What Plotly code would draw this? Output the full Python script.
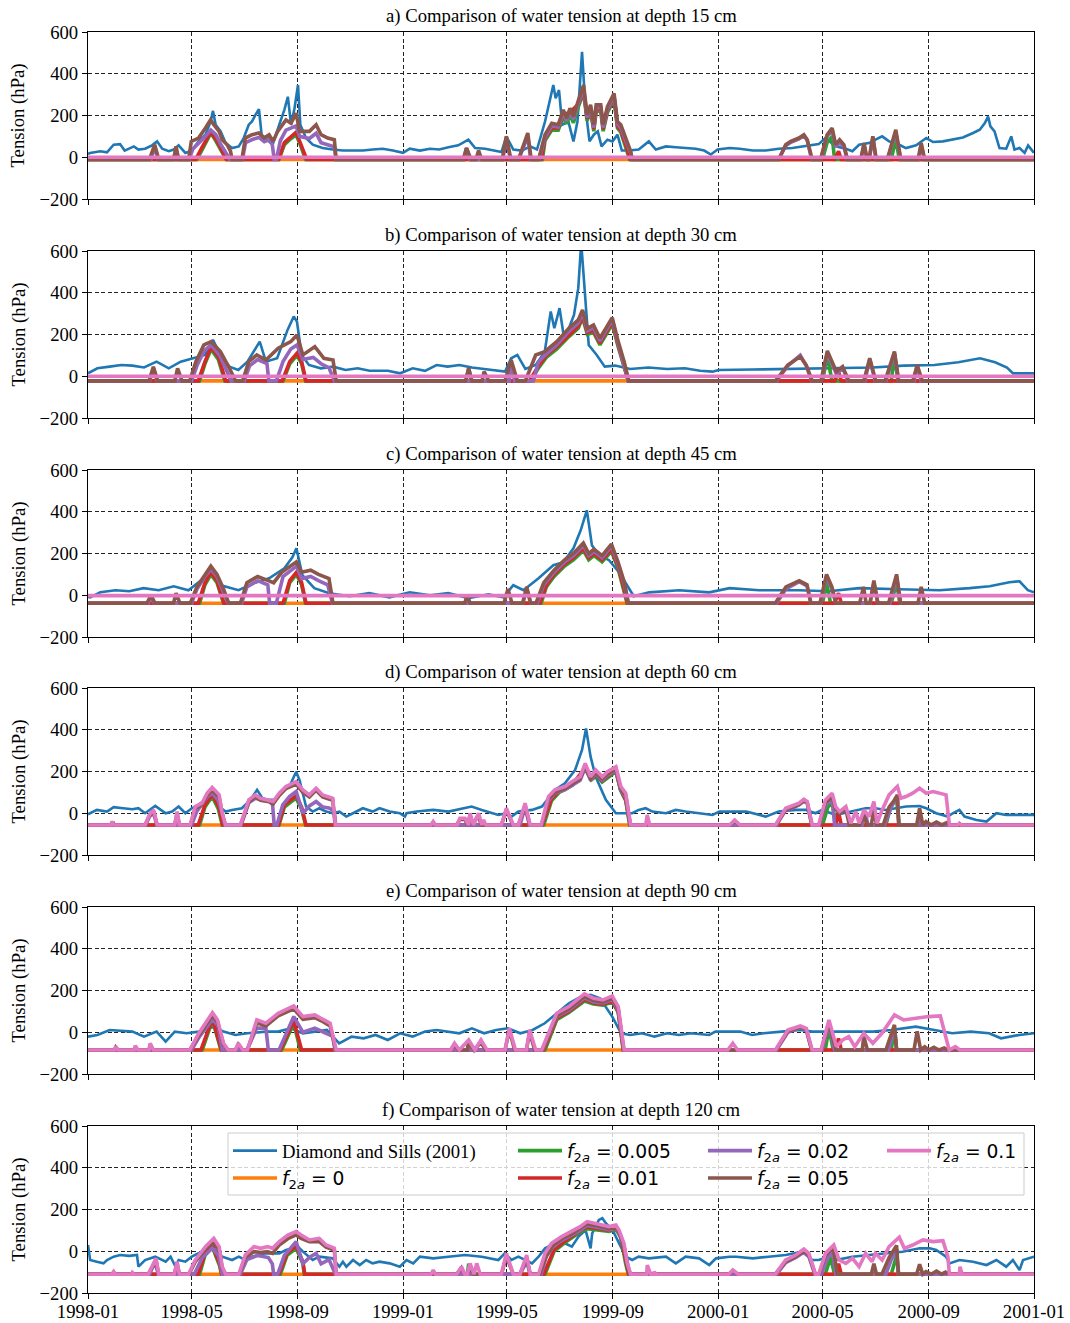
import plotly.graph_objects as go
from datetime import datetime

# ---------------- DATA (time in months since 1998-01, value in hPa) ----------------
BASE = {"a": -11, "b": -22, "c": -38, "d": -56, "e": -85, "f": -110}
DEPTHS = {"a": 15, "b": 30, "c": 45, "d": 60, "e": 90, "f": 120}

A_OBS = [(0.0,15),(0.08,21),(0.46,29),(0.71,24),(0.96,60),(1.22,63),(1.41,32),(1.6,41),(1.79,52),(1.98,37),(2.23,41),(2.49,57),(2.68,76),(2.87,41),(3.12,29),(3.31,37),(3.5,57),(3.76,21),(4.01,32),(4.26,76),(4.52,108),(4.71,171),(4.8,222),(4.9,156),(5.09,124),(5.28,68),(5.53,44),(5.79,52),(5.98,92),(6.17,156),(6.29,171),(6.42,203),(6.55,230),(6.65,108),(6.87,84),(7.06,60),(7.31,156),(7.5,227),(7.63,290),(7.75,156),(7.88,235),(8.01,346),(8.1,156),(8.32,92),(8.58,60),(8.96,44),(9.34,37),(9.72,32),(10.1,32),(10.48,32),(10.86,37),(11.24,41),(11.62,32),(12.0,21),(12.25,41),(12.63,32),(13.01,41),(13.39,37),(13.77,48),(14.16,57),(14.54,84),(14.79,44),(15.17,41),(15.55,32),(15.8,25),(15.99,100),(16.25,37),(16.57,32),(16.88,52),(17.14,37),(17.45,171),(17.77,346),(17.86,282),(17.99,322),(18.11,156),(18.34,171),(18.53,76),(18.68,171),(18.85,505),(18.98,235),(19.13,76),(19.29,108),(19.44,124),(19.58,52),(19.8,84),(19.99,76),(20.18,108),(20.35,32),(20.62,32),(21.0,37),(21.38,76),(21.64,37),(22.02,52),(22.4,48),(22.78,44),(23.16,41),(23.48,32),(23.73,13),(23.98,37),(24.43,44),(24.81,41),(25.32,32),(25.83,32),(26.33,41),(26.84,44),(27.35,52),(27.85,63),(28.11,92),(28.49,52),(28.87,41),(29.12,29),(29.38,60),(29.76,68),(30.01,84),(30.26,100),(30.52,76),(30.9,60),(31.15,44),(31.53,57),(31.91,92),(32.17,73),(32.55,76),(32.93,84),(33.31,95),(33.69,116),(33.94,132),(34.13,163),(34.26,195),(34.35,148),(34.51,124),(34.7,44),(34.96,41),(35.15,100),(35.27,37),(35.46,44),(35.65,21),(35.78,57),(36.0,21)]
A_GREEN = [(0,-11),(4.2,-11),(4.45,50),(4.72,116),(4.9,80),(5.15,20),(5.3,-11),(7.3,-11),(7.5,60),(7.75,90),(7.94,108),(8.1,60),(8.3,-11),(14.4,-11),(14.47,40),(14.6,-11),(17.35,-11),(17.45,80),(17.71,130),(17.96,130),(18.15,195),(18.28,160),(18.4,205),(18.53,165),(18.72,245),(18.91,310),(19.04,175),(19.17,220),(19.29,125),(19.38,220),(19.55,220),(19.64,125),(19.8,215),(20.05,275),(20.18,140),(20.31,120),(20.5,50),(20.65,-11),(28.0,-11),(28.17,70),(28.36,100),(28.45,-11),(30.6,-11),(30.77,90),(30.9,-11),(36,-11)]
A_RED = [(0,-11),(4.15,-11),(4.4,50),(4.72,120),(4.92,85),(5.15,30),(5.32,-11),(7.28,-11),(7.5,70),(7.94,120),(8.1,70),(8.25,20),(8.35,-11),(17.3,-11),(17.45,90),(17.71,140),(17.96,140),(18.15,205),(18.4,215),(18.72,255),(18.91,320),(19.04,185),(19.17,230),(19.29,135),(19.38,230),(19.55,230),(19.64,135),(19.8,225),(20.05,285),(20.18,150),(20.31,130),(20.5,60),(20.68,-11),(28.45,-11),(28.6,29),(28.7,-11),(36,-11)]
A_PURPLE = [(0,-11),(2.45,-11),(2.59,50),(2.72,-11),(3.3,-11),(3.4,40),(3.5,-11),(3.9,-11),(4.05,40),(4.3,70),(4.52,100),(4.72,130),(4.9,110),(5.1,60),(5.3,20),(5.45,-11),(5.93,-11),(6.05,70),(6.3,85),(6.55,95),(6.75,75),(6.95,85),(7.05,60),(7.12,-11),(7.2,-11),(7.35,80),(7.56,130),(7.94,150),(8.07,100),(8.45,90),(8.71,115),(8.9,70),(9.15,60),(9.4,50),(9.46,-11),(14.35,-11),(14.47,44),(14.6,-11),(15.85,-11),(15.99,90),(16.14,-11),(16.45,-11),(16.79,100),(16.9,-11),(17.22,-11),(17.45,95),(17.71,150),(17.96,145),(18.15,212),(18.28,175),(18.4,222),(18.53,182),(18.72,262),(18.91,330),(19.04,190),(19.17,238),(19.29,142),(19.38,238),(19.55,238),(19.64,142),(19.8,230),(20.05,292),(20.18,160),(20.31,142),(20.5,80),(20.69,20),(20.74,-11),(26.33,-11),(26.59,55),(26.78,72),(27.09,88),(27.28,104),(27.41,80),(27.58,-11),(27.93,-11),(28.17,100),(28.36,130),(28.49,50),(28.64,70),(28.8,50),(28.92,-11),(29.45,-11),(29.57,60),(29.68,-11),(29.77,-11),(29.91,95),(30.03,-11),(30.46,-11),(30.77,120),(30.95,-11),(31.62,-11),(31.72,60),(31.84,-11),(36,-11)]
A_BROWN = [(0,-11),(2.39,-11),(2.59,60),(2.74,-11),(3.31,-11),(3.4,52),(3.5,-11),(3.88,-11),(3.99,76),(4.26,92),(4.52,140),(4.71,179),(4.83,156),(5.03,124),(5.15,84),(5.34,60),(5.47,29),(5.53,-11),(5.91,-11),(6.04,92),(6.29,108),(6.55,116),(6.74,92),(6.93,108),(7.08,76),(7.25,124),(7.56,179),(7.75,163),(7.94,211),(8.07,124),(8.45,124),(8.71,156),(8.9,108),(9.15,92),(9.4,84),(9.47,-11),(14.35,-11),(14.47,44),(14.64,-11),(14.82,-11),(14.92,32),(15.04,-11),(15.83,-11),(15.99,100),(16.16,-11),(16.44,-11),(16.79,116),(16.92,-11),(17.2,-11),(17.45,108),(17.71,163),(17.96,156),(18.15,227),(18.28,187),(18.4,235),(18.53,195),(18.72,275),(18.91,346),(19.04,203),(19.17,251),(19.29,156),(19.38,251),(19.55,251),(19.64,156),(19.8,243),(20.05,306),(20.18,171),(20.31,156),(20.5,92),(20.69,29),(20.75,-11),(26.33,-11),(26.59,60),(26.78,76),(27.09,92),(27.28,108),(27.41,84),(27.6,-11),(27.92,-11),(28.17,108),(28.36,140),(28.49,60),(28.64,84),(28.8,60),(28.93,-11),(29.44,-11),(29.57,68),(29.69,-11),(29.76,-11),(29.91,100),(30.04,-11),(30.45,-11),(30.77,132),(30.96,-11),(31.6,-11),(31.72,68),(31.85,-11),(36,-11)]
A_PINK = [(0,0),(36,0)]

B_OBS = [(0.0,14),(0.35,38),(0.81,46),(1.27,54),(1.73,51),(2.19,42),(2.66,70),(3.12,38),(3.58,70),(4.04,86),(4.5,102),(4.8,174),(5.08,102),(5.43,46),(5.77,30),(6.12,70),(6.58,166),(6.81,70),(7.23,86),(7.62,222),(7.85,286),(7.97,262),(8.15,102),(8.43,54),(8.89,38),(9.35,46),(9.82,30),(10.28,38),(10.74,26),(11.43,26),(11.89,14),(12.36,38),(12.82,26),(13.28,54),(13.74,46),(14.2,54),(14.67,42),(15.13,35),(15.59,26),(15.94,22),(16.17,86),(16.4,102),(16.7,35),(17.09,54),(17.44,118),(17.67,310),(17.81,230),(18.01,326),(18.18,182),(18.36,230),(18.55,294),(18.71,422),(18.82,640),(18.96,390),(19.1,150),(19.4,102),(19.7,46),(20.09,51),(20.67,35),(21.36,42),(22.06,35),(22.75,38),(23.33,26),(23.79,22),(24.02,30),(25.29,32),(26.44,35),(27.6,38),(28.75,42),(29.91,42),(31.06,51),(32.22,54),(33.14,67),(33.95,86),(34.53,67),(34.99,42),(35.22,14),(36.0,14)]
B_GREEN = [(0,-22),(4.3,-22),(4.5,60),(4.73,130),(5.0,80),(5.25,-22),(7.45,-22),(7.7,60),(7.97,100),(8.15,60),(8.3,-22),(14.45,-22),(14.55,38),(14.65,-22),(16.9,-22),(17.2,40),(17.5,90),(17.9,130),(18.36,190),(18.71,230),(18.87,280),(19.05,200),(19.28,210),(19.52,150),(19.75,200),(19.98,250),(20.21,140),(20.44,40),(20.6,-22),(28.0,-22),(28.18,100),(28.35,-22),(30.6,-22),(30.72,100),(30.85,-22),(36,-22)]
B_RED = [(0,-22),(4.25,-22),(4.5,70),(4.73,140),(5.02,90),(5.28,-22),(7.42,-22),(7.7,70),(7.97,110),(8.15,70),(8.32,-22),(16.85,-22),(17.2,50),(17.5,100),(17.9,140),(18.36,200),(18.71,240),(18.87,290),(19.05,210),(19.28,220),(19.52,160),(19.75,210),(19.98,260),(20.21,150),(20.44,50),(20.6,-22),(28.45,-22),(28.6,20),(28.7,-22),(36,-22)]
B_PURPLE = [(0,-22),(2.4,-22),(2.54,40),(2.68,-22),(4.0,-22),(4.2,50),(4.46,120),(4.73,150),(5.05,100),(5.35,20),(5.5,-22),(6.0,-22),(6.2,50),(6.5,80),(6.85,60),(6.92,-22),(7.2,-22),(7.45,70),(7.74,130),(7.97,150),(8.2,80),(8.6,90),(8.9,60),(9.2,40),(9.4,-22),(16.1,-22),(16.17,60),(16.3,-22),(17.0,-22),(17.2,70),(17.44,100),(17.9,150),(18.36,215),(18.71,255),(18.87,305),(19.05,218),(19.28,232),(19.52,170),(19.75,218),(19.98,270),(20.21,155),(20.44,55),(20.6,-22),(26.25,-22),(26.67,50),(27.14,100),(27.37,50),(27.58,-22),(27.95,-22),(28.18,110),(28.52,10),(28.75,40),(28.95,-22),(29.6,-22),(29.79,80),(30.0,-22),(30.4,-22),(30.72,110),(30.87,-22),(31.45,-22),(31.57,50),(31.72,-22),(36,-22)]
B_BROWN = [(0,-22),(2.38,-22),(2.54,46),(2.7,-22),(3.35,-22),(3.46,38),(3.63,-22),(3.93,-22),(4.16,70),(4.46,150),(4.73,166),(5.08,118),(5.43,38),(5.66,-22),(5.94,-22),(6.17,70),(6.47,102),(6.81,78),(7.27,134),(7.74,166),(7.97,198),(8.2,102),(8.66,142),(9.01,86),(9.35,78),(9.47,-22),(14.43,-22),(14.55,38),(14.67,-22),(15.05,-22),(15.13,22),(15.31,-22),(15.94,-22),(16.17,78),(16.4,-22),(16.7,-22),(17.09,102),(17.44,118),(17.9,166),(18.36,230),(18.71,270),(18.87,318),(19.05,230),(19.28,246),(19.52,182),(19.75,230),(19.98,281),(20.21,166),(20.44,70),(20.62,-22),(26.21,-22),(26.67,54),(27.14,94),(27.37,54),(27.6,-22),(27.94,-22),(28.18,121),(28.52,22),(28.75,46),(28.98,-22),(29.56,-22),(29.79,86),(30.02,-22),(30.37,-22),(30.72,118),(30.88,-22),(31.41,-22),(31.57,54),(31.76,-22),(36,-22)]
B_PINK = [(0,0),(36,0)]

C_OBS = [(0.0,-8),(0.08,-10),(0.46,14),(1.03,24),(1.6,19),(2.17,34),(2.74,24),(3.31,43),(3.88,24),(4.45,81),(4.72,100),(5.1,48),(5.78,24),(6.35,57),(6.93,81),(7.5,129),(7.8,182),(7.95,225),(8.18,96),(8.64,34),(9.21,10),(9.97,-5),(10.73,10),(11.49,-10),(12.25,14),(13.01,0),(13.77,10),(14.54,-14),(15.3,5),(15.87,-10),(16.25,48),(16.63,24),(17.2,81),(17.77,144),(18.15,158),(18.53,225),(18.8,311),(19.03,407),(19.22,240),(19.48,192),(19.86,168),(20.24,110),(20.55,48),(20.81,-5),(21.39,14),(22.53,24),(23.67,14),(24.43,34),(25.57,24),(27.09,24),(28.23,19),(29.38,34),(30.9,29),(32.42,24),(33.56,34),(34.32,43),(35.08,62),(35.46,67),(35.77,24),(36.0,14)]
C_GREEN = [(0,-38),(4.3,-38),(4.5,50),(4.72,100),(4.95,60),(5.2,-38),(7.5,-38),(7.7,60),(7.95,100),(8.15,50),(8.3,-38),(14.42,-38),(14.5,-5),(14.58,-38),(17.3,-38),(17.5,40),(17.8,90),(18.2,140),(18.53,170),(18.9,215),(19.1,170),(19.3,190),(19.6,160),(19.95,210),(20.2,130),(20.4,30),(20.55,-38),(28.0,-38),(28.15,60),(28.3,-38),(30.6,-38),(30.8,60),(30.92,-38),(36,-38)]
C_RED = [(0,-38),(4.25,-38),(4.5,60),(4.72,110),(4.95,70),(5.22,-38),(7.45,-38),(7.7,70),(7.95,110),(8.15,60),(8.32,-38),(17.25,-38),(17.5,50),(17.8,100),(18.2,150),(18.53,180),(18.9,225),(19.1,180),(19.3,200),(19.6,170),(19.95,220),(20.2,140),(20.42,40),(20.57,-38),(28.45,-38),(28.6,10),(28.7,-38),(36,-38)]
C_PURPLE = [(0,-38),(2.35,-38),(2.45,-10),(2.58,-38),(4.0,-38),(4.2,30),(4.5,90),(4.72,125),(4.95,90),(5.2,20),(5.38,-38),(5.9,-38),(6.1,40),(6.5,70),(6.88,50),(6.95,-38),(7.2,-38),(7.45,90),(7.95,140),(8.15,80),(8.5,90),(8.8,70),(9.15,50),(9.33,-38),(16.6,-38),(16.75,30),(16.9,-38),(17.15,-38),(17.4,50),(17.8,110),(18.2,160),(18.53,190),(18.9,240),(19.1,190),(19.3,210),(19.6,180),(19.95,235),(20.2,150),(20.45,50),(20.6,-38),(26.25,-38),(26.6,30),(27.1,65),(27.4,45),(27.55,-38),(27.92,-38),(28.15,90),(28.35,30),(28.5,-38),(29.8,-38),(29.95,60),(30.1,-38),(30.55,-38),(30.8,90),(30.95,-38),(36,-38)]
C_BROWN = [(0,-38),(2.3,-38),(2.45,0),(2.6,-38),(3.3,-38),(3.4,10),(3.55,-38),(3.95,-38),(4.2,40),(4.5,100),(4.72,140),(4.95,100),(5.2,30),(5.4,-38),(5.85,-38),(6.1,60),(6.5,90),(6.9,70),(7.1,60),(7.4,110),(7.95,160),(8.15,110),(8.5,120),(8.8,100),(9.2,80),(9.35,-38),(14.4,-38),(14.5,0),(14.6,-38),(15.9,-38),(16.05,30),(16.2,-38),(16.6,-38),(16.75,40),(16.9,-38),(17.1,-38),(17.4,60),(17.8,120),(18.2,170),(18.53,200),(18.9,250),(19.1,200),(19.3,220),(19.6,190),(19.95,245),(20.2,160),(20.45,60),(20.6,-38),(26.2,-38),(26.6,40),(27.1,70),(27.4,50),(27.55,-38),(27.9,-38),(28.15,100),(28.35,40),(28.5,-38),(29.4,-38),(29.55,40),(29.65,-38),(29.8,-38),(29.95,70),(30.1,-38),(30.5,-38),(30.8,100),(30.95,-38),(31.6,-38),(31.72,40),(31.85,-38),(36,-38)]
C_PINK = [(0,-2),(36,-2)]

D_OBS = [(0.0,-5),(0.08,0),(0.33,16),(0.71,8),(0.96,29),(1.35,24),(1.73,19),(1.98,24),(2.23,0),(2.61,35),(3.0,0),(3.25,8),(3.5,32),(3.76,0),(4.01,24),(4.26,40),(4.52,64),(4.83,96),(5.03,32),(5.28,8),(5.53,16),(5.91,24),(6.23,64),(6.48,112),(6.68,72),(6.93,64),(7.18,64),(7.44,112),(7.69,128),(7.94,199),(8.07,159),(8.32,32),(8.58,8),(8.83,24),(9.09,8),(9.34,0),(9.59,8),(9.85,-16),(10.1,0),(10.48,24),(10.86,8),(11.12,24),(11.5,8),(11.88,0),(12.07,-16),(12.13,0),(12.51,8),(13.14,16),(13.77,8),(14.41,24),(14.66,32),(15.04,16),(15.68,-8),(15.99,0),(16.18,-16),(16.44,8),(16.95,16),(17.33,32),(17.83,112),(18.21,143),(18.59,207),(18.85,303),(19.0,406),(19.17,271),(19.36,175),(19.74,64),(20.12,0),(20.75,0),(21.0,16),(21.26,24),(21.51,8),(22.02,0),(22.4,16),(22.78,8),(23.29,0),(23.79,-8),(24.05,8),(24.43,8),(25.06,8),(25.83,-16),(26.33,8),(26.97,16),(27.35,16),(27.73,0),(27.98,16),(28.49,-8),(29.12,8),(29.63,24),(30.01,24),(30.39,16),(30.77,24),(31.15,32),(31.66,35),(31.91,24),(32.29,0),(32.74,-16),(32.93,0),(33.18,16),(33.37,-16),(33.82,-32),(34.2,-40),(34.58,0),(34.96,-8),(35.46,-8),(36.0,-8)]
D_GREEN = [(0,-56),(4.3,-56),(4.5,30),(4.77,80),(5.0,20),(5.15,-56),(7.3,-56),(7.5,30),(7.8,60),(7.94,72),(8.15,20),(8.3,-56),(14.55,-56),(14.6,-20),(14.65,-56),(17.4,-56),(17.7,60),(18.0,100),(18.5,135),(18.97,210),(19.2,160),(19.4,180),(19.6,150),(19.8,170),(20.12,200),(20.3,110),(20.5,60),(20.65,-56),(28.0,-56),(28.2,30),(28.36,48),(28.5,-56),(30.4,-56),(30.6,40),(30.8,64),(30.9,-56),(36,-56)]
D_RED = [(0,-56),(4.25,-56),(4.5,40),(4.77,90),(5.02,30),(5.17,-56),(7.28,-56),(7.5,40),(7.8,70),(7.94,85),(8.15,30),(8.32,-56),(17.35,-56),(17.7,70),(18.0,105),(18.5,140),(18.97,218),(19.2,165),(19.4,185),(19.6,155),(19.8,178),(20.12,205),(20.3,115),(20.5,65),(20.67,-56),(28.5,-56),(28.6,5),(28.7,-56),(36,-56)]
D_PURPLE = [(0,-56),(2.25,-56),(2.4,-15),(2.55,0),(2.67,-56),(4.0,-56),(4.2,10),(4.45,50),(4.6,80),(4.77,96),(5.0,60),(5.15,0),(5.25,-56),(5.88,-56),(6.17,50),(6.42,72),(6.7,62),(6.93,60),(7.06,40),(7.12,-56),(7.22,-56),(7.44,40),(7.69,80),(7.94,104),(8.1,40),(8.2,0),(8.45,35),(8.6,50),(8.71,56),(8.96,30),(9.2,25),(9.4,10),(9.45,-56),(16.5,-56),(16.69,30),(16.85,-56),(17.33,-56),(17.58,60),(17.83,95),(18.21,112),(18.47,132),(18.78,158),(18.97,220),(19.17,158),(19.36,190),(19.61,158),(19.8,182),(20.12,205),(20.31,110),(20.5,75),(20.67,-56),(26.25,-56),(26.59,15),(26.84,25),(27.09,40),(27.28,58),(27.41,48),(27.58,-56),(27.88,-56),(28.11,40),(28.36,70),(28.45,-56),(29.5,-56),(29.62,0),(29.72,-56),(30.35,-56),(30.6,30),(30.83,80),(30.88,-56),(31.6,-56),(31.66,10),(31.75,-56),(36,-56)]
D_BROWN = [(0,-56),(0.9,-56),(0.93,-42),(0.98,-56),(2.23,-56),(2.39,-12),(2.55,10),(2.68,-56),(3.35,-56),(3.44,0),(3.53,-56),(3.95,-56),(4.14,25),(4.39,40),(4.58,85),(4.77,112),(5.03,78),(5.15,-5),(5.27,-56),(5.86,-56),(6.17,55),(6.42,78),(6.61,62),(6.93,55),(7.08,45),(7.31,85),(7.56,118),(7.94,140),(8.2,100),(8.45,78),(8.71,110),(8.96,78),(9.34,62),(9.43,-56),(13.05,-56),(13.14,-45),(13.23,-56),(14.1,-56),(14.22,-30),(14.41,-30),(14.5,-56),(14.6,-10),(14.7,-56),(14.9,-10),(15.02,-56),(15.8,-56),(15.99,15),(16.24,-56),(16.44,-56),(16.69,38),(16.87,-56),(17.32,-56),(17.58,68),(17.83,100),(18.21,118),(18.47,140),(18.78,165),(18.97,228),(19.17,165),(19.36,196),(19.61,165),(19.8,188),(20.12,212),(20.31,118),(20.5,85),(20.68,-56),(24.45,-56),(24.62,-38),(24.8,-56),(26.22,-56),(26.59,18),(26.84,28),(27.09,42),(27.28,60),(27.41,50),(27.59,-56),(27.86,-56),(28.11,50),(28.36,80),(28.49,20),(28.64,0),(28.87,20),(29.0,-56),(29.4,-56),(29.57,-10),(29.7,-56),(29.85,-56),(29.95,20),(30.05,-56),(30.3,-56),(30.52,30),(30.7,60),(30.83,88),(30.88,-56),(31.55,-56),(31.66,24),(31.78,-56),(31.9,-40),(32.1,-56),(32.3,-42),(32.5,-56),(32.7,-45),(32.8,-56),(36,-56)]
D_PINK = [(0,-56),(0.84,-56),(0.9,-40),(0.96,-56),(2.23,-56),(2.39,-8),(2.55,16),(2.68,-56),(3.35,-56),(3.44,8),(3.53,-56),(3.95,-56),(4.14,32),(4.39,48),(4.58,96),(4.77,124),(5.03,88),(5.15,0),(5.28,-56),(5.85,-56),(6.17,64),(6.42,88),(6.61,72),(6.93,64),(7.08,56),(7.31,96),(7.56,128),(7.94,151),(8.2,112),(8.45,88),(8.71,120),(8.96,88),(9.34,72),(9.44,-56),(13.05,-56),(13.14,-40),(13.23,-56),(14.12,-56),(14.22,-24),(14.41,-24),(14.54,-56),(14.6,0),(14.73,-56),(14.92,0),(15.04,-56),(15.11,-32),(15.2,-56),(15.8,-56),(15.99,24),(16.25,-56),(16.44,-56),(16.69,48),(16.88,-56),(17.3,-56),(17.58,80),(17.83,112),(18.21,128),(18.47,151),(18.78,175),(18.97,239),(19.17,175),(19.36,207),(19.61,175),(19.8,199),(20.12,223),(20.31,128),(20.5,96),(20.69,-56),(21.26,-56),(21.32,-8),(21.41,-56),(24.43,-56),(24.62,-32),(24.81,-56),(26.21,-56),(26.59,24),(26.84,35),(27.09,48),(27.28,67),(27.41,56),(27.6,-56),(27.85,-56),(28.11,64),(28.36,96),(28.49,32),(28.64,8),(28.87,32),(29.06,-48),(29.25,8),(29.38,-48),(29.57,16),(29.76,-16),(29.95,56),(30.07,-48),(30.26,16),(30.52,88),(30.83,128),(30.96,72),(31.15,80),(31.4,96),(31.66,120),(31.91,96),(32.17,104),(32.42,96),(32.67,88),(32.8,-56),(33.12,-56),(33.18,-48),(33.25,-56),(36,-56)]

E_OBS = [(0.0,-21),(0.35,-13),(0.81,11),(1.27,8),(1.73,3),(2.19,-21),(2.66,3),(3.0,-45),(3.35,3),(3.81,-5),(4.27,3),(4.5,11),(4.85,27),(5.2,3),(5.66,-13),(6.12,-5),(6.81,3),(7.27,3),(7.74,19),(8.2,-5),(8.66,3),(9.12,11),(9.58,-53),(10.05,-21),(10.51,-29),(10.97,-13),(11.43,-37),(11.89,-5),(12.36,-21),(12.82,3),(13.28,11),(13.74,3),(14.2,-5),(14.67,19),(15.13,-5),(15.59,11),(16.05,19),(16.51,-5),(16.97,11),(17.44,43),(17.9,91),(18.36,139),(18.82,171),(19.17,179),(19.52,163),(19.98,75),(20.32,-5),(20.67,-13),(21.13,-5),(21.59,-21),(22.06,-5),(22.52,-13),(22.98,-5),(23.67,-13),(23.9,3),(24.83,3),(25.29,-13),(25.75,-5),(26.44,3),(27.14,11),(27.6,3),(28.29,3),(28.98,3),(29.91,3),(30.6,11),(31.52,27),(32.22,11),(32.91,-5),(33.6,3),(34.3,-5),(34.76,-29),(35.45,-13),(36.0,-5)]
E_GREEN = [(0,-85),(4.4,-85),(4.78,59),(5.1,-85),(7.4,-85),(7.85,43),(8.1,-85),(14.5,-85),(14.55,-40),(14.65,-85),(17.45,-85),(17.9,60),(18.36,95),(18.94,150),(19.28,135),(19.63,130),(19.98,145),(20.21,95),(20.4,-85),(28.1,-85),(28.24,19),(28.4,-85),(30.6,-85),(30.72,20),(30.8,-85),(36,-85)]
E_RED = [(0,-85),(4.35,-85),(4.78,65),(5.12,-85),(7.35,-85),(7.85,55),(8.15,-85),(17.4,-85),(17.9,68),(18.36,100),(18.94,158),(19.28,140),(19.63,135),(19.98,150),(20.21,100),(20.41,-85),(28.45,-85),(28.6,-30),(28.7,-85),(36,-85)]
E_PURPLE = [(0,-85),(4.0,-85),(4.3,-20),(4.78,62),(5.0,30),(5.15,-85),(6.1,-85),(6.47,20),(6.81,20),(6.9,-85),(7.3,-85),(7.85,75),(8.2,0),(8.66,20),(9.01,0),(9.35,-20),(9.42,-85),(17.36,-85),(17.9,75),(18.36,105),(18.94,165),(19.28,145),(19.63,140),(19.98,155),(20.21,105),(20.42,-85),(26.25,-85),(26.67,0),(27.14,22),(27.37,12),(27.58,-85),(27.98,-85),(28.24,35),(28.45,-85),(30.5,-85),(30.72,25),(30.8,-85),(36,-85)]
E_BROWN = [(0,-85),(0.99,-85),(1.04,-72),(1.12,-85),(1.8,-85),(1.85,-70),(1.94,-85),(2.38,-85),(2.42,-58),(2.52,-85),(3.93,-85),(4.27,-15),(4.78,82),(4.97,50),(5.2,-60),(5.36,-85),(5.66,-85),(5.77,-58),(5.94,-85),(6.12,-85),(6.47,45),(6.81,30),(7.27,78),(7.85,112),(8.2,62),(8.66,70),(9.01,48),(9.24,30),(9.45,-85),(13.86,-85),(14.02,-58),(14.18,-85),(14.5,-85),(14.55,-45),(14.75,-85),(15.0,-50),(15.2,-85),(15.94,-85),(16.1,10),(16.3,-85),(16.74,-85),(16.86,0),(17.05,-85),(17.34,-85),(17.9,80),(18.36,112),(18.94,172),(19.28,152),(19.63,145),(19.98,163),(20.21,112),(20.42,-85),(26.22,-85),(26.67,5),(27.14,25),(27.37,15),(27.58,-85),(27.95,-85),(28.24,45),(28.5,-85),(29.5,-85),(29.56,-20),(29.7,-85),(30.4,-85),(30.72,35),(30.8,-85),(31.45,-85),(31.57,5),(31.7,-85),(31.85,-70),(32.0,-85),(32.2,-72),(32.4,-85),(32.6,-75),(32.75,-85),(36,-85)]
E_PINK = [(0,-85),(0.99,-85),(1.04,-69),(1.15,-85),(1.8,-85),(1.85,-65),(1.96,-85),(2.38,-85),(2.42,-53),(2.54,-85),(3.93,-85),(4.27,-5),(4.78,94),(4.97,59),(5.2,-53),(5.38,-85),(5.66,-85),(5.77,-53),(5.94,-85),(6.12,-85),(6.47,59),(6.81,43),(7.27,91),(7.85,126),(8.2,75),(8.66,83),(9.01,59),(9.24,43),(9.47,-85),(13.86,-85),(14.02,-53),(14.2,-85),(14.55,-37),(14.78,-85),(15.01,-37),(15.24,-85),(15.94,-85),(16.1,19),(16.33,-85),(16.74,-85),(16.86,11),(17.09,-85),(17.32,-85),(17.9,91),(18.36,123),(18.94,184),(19.28,163),(19.63,155),(19.98,174),(20.21,123),(20.44,-85),(24.36,-85),(24.55,-53),(24.73,-85),(26.21,-85),(26.67,11),(27.14,30),(27.37,19),(27.6,-85),(27.94,-85),(28.24,59),(28.52,-69),(28.75,-37),(28.98,-21),(29.21,-69),(29.56,-5),(29.91,-53),(30.25,-5),(30.72,83),(31.06,59),(31.52,67),(31.99,75),(32.45,78),(32.68,-37),(32.79,-85),(33.03,-69),(33.19,-85),(36,-85)]

F_OBS = [(0.0,30),(0.08,-42),(0.33,-50),(0.58,-58),(0.71,-42),(0.96,-26),(1.22,-18),(1.6,-22),(1.92,-18),(1.98,-74),(2.23,-42),(2.61,-26),(3.0,-50),(3.19,-26),(3.38,-74),(3.5,-42),(3.76,-50),(4.01,-26),(4.26,-10),(4.52,-2),(4.77,14),(4.9,6),(5.15,-26),(5.53,-42),(5.79,-26),(6.04,-42),(6.29,-26),(6.55,-18),(6.8,-10),(7.31,-10),(7.56,6),(7.82,14),(8.01,22),(8.2,-2),(8.58,-42),(8.83,-26),(9.34,-34),(9.59,-74),(9.72,-50),(9.85,-74),(10.1,-42),(10.36,-66),(10.61,-42),(10.86,-58),(11.12,-50),(11.5,-58),(11.88,-74),(12.13,-42),(12.38,-58),(12.63,-26),(13.14,-34),(13.77,-26),(14.41,-18),(15.04,-26),(15.68,-42),(15.93,-10),(16.18,-42),(16.44,-26),(16.69,-42),(16.95,-58),(17.2,-26),(17.45,14),(17.83,38),(18.21,38),(18.47,22),(18.72,70),(18.98,102),(19.17,14),(19.23,86),(19.48,150),(19.61,158),(19.74,134),(19.99,102),(20.24,38),(20.5,-26),(20.75,-42),(21.0,-26),(21.38,-34),(22.02,-26),(22.4,-58),(22.78,-26),(23.29,-34),(23.67,-66),(23.92,-34),(24.43,-26),(24.68,-26),(25.32,-34),(25.95,-26),(26.59,-18),(27.22,-2),(27.6,-42),(27.85,-42),(28.24,-26),(28.49,-42),(28.87,-34),(29.12,-26),(29.76,-18),(30.39,-10),(31.02,-2),(31.66,14),(32.04,14),(32.29,6),(32.67,-26),(32.8,-58),(33.18,-42),(33.69,-50),(34.2,-66),(34.58,-42),(34.96,-74),(35.21,-42),(35.46,-90),(35.59,-42),(36.0,-26)]
F_GREEN = [(0,-110),(4.3,-110),(4.5,-20),(4.77,22),(5.05,-70),(5.12,-110),(7.35,-110),(7.6,-20),(7.94,14),(8.2,-60),(8.25,-110),(14.5,-110),(14.55,-60),(14.65,-110),(17.45,-110),(17.8,0),(18.2,40),(18.7,85),(19.04,108),(19.36,104),(19.61,98),(19.86,95),(20.12,104),(20.3,70),(20.5,-60),(20.6,-110),(28.1,-110),(28.3,-30),(28.45,-110),(30.6,-110),(30.8,-20),(30.88,-110),(36,-110)]
F_RED = [(0,-110),(4.25,-110),(4.5,-10),(4.77,30),(5.05,-60),(5.13,-110),(7.3,-110),(7.6,-10),(7.94,25),(8.2,-50),(8.27,-110),(17.4,-110),(17.8,8),(18.2,48),(18.7,92),(19.04,116),(19.36,110),(19.61,104),(19.86,100),(20.12,110),(20.3,75),(20.52,-55),(20.62,-110),(28.5,-110),(28.6,-60),(28.7,-110),(36,-110)]
F_PURPLE = [(0,-110),(2.4,-110),(2.6,-50),(2.72,-110),(4.1,-110),(4.4,-30),(4.77,14),(5.0,-20),(5.15,-110),(5.85,-110),(6.1,-40),(6.5,-20),(6.9,-30),(7.05,-60),(7.1,-110),(7.25,-110),(7.5,-20),(7.94,46),(8.2,-60),(8.45,-30),(8.71,-10),(8.9,-60),(9.2,-40),(9.44,-110),(16.5,-110),(16.75,-50),(16.88,-110),(17.3,-110),(17.5,-25),(17.75,20),(18.09,52),(18.47,76),(18.78,100),(19.04,124),(19.36,118),(19.61,110),(19.86,102),(20.12,110),(20.24,86),(20.43,20),(20.66,-110),(26.25,-110),(26.59,-55),(26.97,-30),(27.28,-5),(27.47,-25),(27.7,-110),(27.95,-110),(28.2,-30),(28.38,-5),(28.5,-110),(30.4,-110),(30.6,-40),(30.8,10),(30.86,-110),(36,-110)]
F_BROWN = [(0,-110),(0.9,-110),(0.96,-100),(1.02,-110),(2.35,-110),(2.5,-80),(2.64,-45),(2.74,-110),(3.33,-110),(3.44,-60),(3.53,-110),(3.9,-110),(4.14,-50),(4.52,10),(4.8,40),(5.03,10),(5.15,-80),(5.28,-110),(5.8,-110),(6.04,-30),(6.36,-2),(6.61,-6),(6.87,-2),(7.06,-10),(7.31,30),(7.63,60),(7.94,78),(8.13,62),(8.45,46),(8.83,46),(9.09,20),(9.4,6),(9.47,-110),(14.1,-110),(14.28,-80),(14.4,-110),(14.5,-110),(14.6,-70),(14.75,-110),(15.8,-110),(15.99,-25),(16.25,-110),(16.5,-110),(16.75,-30),(16.88,-110),(17.25,-110),(17.5,-20),(17.75,28),(18.09,60),(18.47,84),(18.78,108),(19.04,132),(19.36,124),(19.61,116),(19.86,108),(20.12,116),(20.24,92),(20.43,28),(20.56,-68),(20.68,-110),(24.4,-110),(24.55,-95),(24.75,-110),(26.2,-110),(26.59,-50),(26.97,-26),(27.28,2),(27.47,-18),(27.72,-110),(27.87,-110),(28.11,-20),(28.4,20),(28.55,-110),(29.85,-110),(29.95,-60),(30.05,-110),(30.25,-110),(30.52,-30),(30.8,28),(30.87,-110),(31.55,-110),(31.66,-62),(31.78,-110),(31.9,-98),(32.1,-110),(32.3,-95),(32.5,-110),(32.65,-100),(32.78,-110),(36,-110)]
F_PINK = [(0,-110),(0.9,-110),(0.96,-98),(1.02,-110),(1.7,-110),(1.73,-102),(1.8,-110),(2.35,-110),(2.5,-70),(2.64,-34),(2.74,-110),(3.33,-110),(3.44,-50),(3.53,-110),(3.88,-110),(4.14,-42),(4.52,22),(4.83,62),(5.03,22),(5.15,-74),(5.28,-110),(5.79,-110),(6.04,-18),(6.36,22),(6.61,14),(6.87,22),(7.06,14),(7.31,46),(7.63,78),(7.94,94),(8.13,78),(8.45,54),(8.83,62),(9.09,30),(9.4,14),(9.47,-110),(13.05,-110),(13.14,-90),(13.23,-110),(14.1,-110),(14.28,-74),(14.4,-110),(14.5,-110),(14.6,-58),(14.75,-110),(14.85,-58),(14.98,-110),(15.8,-110),(15.99,-10),(16.25,-110),(16.5,-110),(16.75,-18),(16.88,-110),(17.2,-110),(17.45,-10),(17.7,38),(18.09,70),(18.47,94),(18.78,118),(19.04,142),(19.36,134),(19.61,126),(19.86,118),(20.12,126),(20.24,102),(20.43,38),(20.56,-58),(20.69,-110),(21.3,-110),(21.32,-66),(21.45,-110),(21.55,-110),(21.58,-98),(21.65,-110),(24.4,-110),(24.55,-90),(24.75,-110),(26.2,-110),(26.59,-42),(26.97,-18),(27.28,10),(27.47,-10),(27.73,-110),(27.85,-110),(28.11,-10),(28.42,30),(28.62,-42),(28.87,-58),(29.12,-34),(29.38,-74),(29.63,-10),(29.88,-50),(30.01,-10),(30.26,-42),(30.52,22),(30.9,67),(31.09,14),(31.4,30),(31.78,54),(32.17,46),(32.55,51),(32.74,-26),(32.8,-110),(33.18,-110),(33.2,-74),(33.28,-110),(36,-110)]

SERIES_NAMES = ["Diamond and Sills (2001)", "0", "0.005", "0.01", "0.02", "0.05", "0.1"]
COLORS = ["#1f77b4", "#ff7f0e", "#2ca02c", "#d62728", "#9467bd", "#8c564b", "#e377c2"]
TICK_LABELS_X = ["1998-01", "1998-05", "1998-09", "1999-01", "1999-05", "1999-09", "2000-01", "2000-05", "2000-09", "2001-01"]
TICK_VALS_Y = [-200, 0, 200, 400, 600]
TICK_TEXT_Y = ["\u2212200", "0", "200", "400", "600"]

PANELS = [
    ("a", A_OBS, A_GREEN, A_RED, A_PURPLE, A_BROWN, A_PINK),
    ("b", B_OBS, B_GREEN, B_RED, B_PURPLE, B_BROWN, B_PINK),
    ("c", C_OBS, C_GREEN, C_RED, C_PURPLE, C_BROWN, C_PINK),
    ("d", D_OBS, D_GREEN, D_RED, D_PURPLE, D_BROWN, D_PINK),
    ("e", E_OBS, E_GREEN, E_RED, E_PURPLE, E_BROWN, E_PINK),
    ("f", F_OBS, F_GREEN, F_RED, F_PURPLE, F_BROWN, F_PINK),
]

# ---------------- helpers ----------------
def month_to_date(m):
    mi = int(m)
    frac = m - mi
    y, mo = 1998 + mi // 12, mi % 12 + 1
    start = datetime(y, mo, 1)
    ny, nmo = (y + 1, 1) if mo == 12 else (y, mo + 1)
    end = datetime(ny, nmo, 1)
    return start + (end - start) * frac

def xs(pairs):
    return [month_to_date(t) for t, _ in pairs]

def ys(pairs):
    return [v for _, v in pairs]

SERIF = "Liberation Serif, Times New Roman, serif"
FS = 18.7

# layout geometry (pixel based)
W, H = 1070, 1323
L, R, T, B = 88, 36, 32, 30
PH = H - T - B
tops = [32, 251, 470, 688, 907, 1126]
panel_h = 167

def py(p):
    return (H - B - p) / PH

def px_x(p):
    return (p - L) / (W - L - R)

fig = go.Figure()

for i, (letter, obs, g, r, pu, br, pk) in enumerate(PANELS):
    k = i + 1
    xa = "x" if k == 1 else f"x{k}"
    ya = "y" if k == 1 else f"y{k}"
    base = BASE[letter]
    orange = [(0, base), (36, base)]
    series = [obs, orange, g, r, pu, br, pk]
    for j, s in enumerate(series):
        name = SERIES_NAMES[j]
        if j == 0:
            label = name
        else:
            label = ('<span style="font-family:DejaVu Sans"><i>f</i><sub>2<i>a</i></sub> = '
                     + name + '</span>')
        legend_id = ["legend", "legend", "legend2", "legend2", "legend3", "legend3", "legend4"][j]
        fig.add_trace(go.Scatter(
            x=xs(s), y=ys(s), mode="lines", name=label,
            line=dict(color=COLORS[j], width=2.6 if j == 0 else 3.6),
            xaxis=xa, yaxis=ya, showlegend=(k == 6), legend=legend_id,
            hoverinfo="skip",
        ))

    top = tops[i]
    dom = [py(top + panel_h), py(top)]
    axis_common = dict(showline=True, linecolor="black", linewidth=1.2, mirror=True,
                       ticks="outside", ticklen=5, tickwidth=1.1, tickcolor="black",
                       showgrid=True, gridcolor="#222222", gridwidth=0.9, griddash="4px,2.5px",
                       zeroline=False, tickfont=dict(family=SERIF, size=FS, color="black"))
    fig.layout["xaxis" if k == 1 else f"xaxis{k}"] = dict(
        axis_common, domain=[0, 1], anchor=ya, type="date",
        range=[datetime(1998, 1, 1), datetime(2001, 1, 1)],
        tickvals=[month_to_date(4 * q) for q in range(10)], ticktext=TICK_LABELS_X,
        showticklabels=(k == 6), ticklabelstandoff=-4,
    )
    fig.layout["yaxis" if k == 1 else f"yaxis{k}"] = dict(
        axis_common, domain=dom, anchor=xa, range=[-200, 600],
        tickvals=TICK_VALS_Y, ticktext=TICK_TEXT_Y,
    )
    fig.add_annotation(xref="paper", yref="paper", x=0.5, y=dom[1], yanchor="bottom",
                       xanchor="center", yshift=3, showarrow=False,
                       text=f"{letter}) Comparison of water tension at depth {DEPTHS[letter]} cm",
                       font=dict(family=SERIF, size=FS, color="black"))
    fig.add_annotation(xref="paper", yref="paper", x=px_x(18),
                       y=(dom[0] + dom[1]) / 2, xanchor="center", yanchor="middle",
                       textangle=-90, showarrow=False, text="Tension (hPa)",
                       font=dict(family=SERIF, size=FS, color="black"))

# legend frame (matplotlib-like box)
fig.add_shape(type="rect", xref="paper", yref="paper",
              x0=px_x(228), x1=px_x(1024), y0=py(1195), y1=py(1133),
              fillcolor="rgba(255,255,255,0.8)", line=dict(color="#cccccc", width=1),
              layer="above")

leg_common = dict(xanchor="left", yanchor="top", bgcolor="rgba(0,0,0,0)", borderwidth=0,
                  font=dict(family=SERIF, size=FS, color="black"), itemwidth=44,
                  tracegroupgap=0, orientation="v")
LEG_TOP = py(1132)
fig.update_layout(
    legend=dict(leg_common, x=px_x(228), y=LEG_TOP),
    legend2=dict(leg_common, x=px_x(513), y=LEG_TOP),
    legend3=dict(leg_common, x=px_x(703), y=LEG_TOP),
    legend4=dict(leg_common, x=px_x(882), y=LEG_TOP),
)

fig.update_layout(
    width=W, height=H,
    margin=dict(l=L, r=R, t=T, b=B, autoexpand=False),
    plot_bgcolor="white", paper_bgcolor="white",
    showlegend=True,
)

fig.write_html("out.html", config={"displayModeBar": False},
               post_script="document.body.style.margin='0px';")
